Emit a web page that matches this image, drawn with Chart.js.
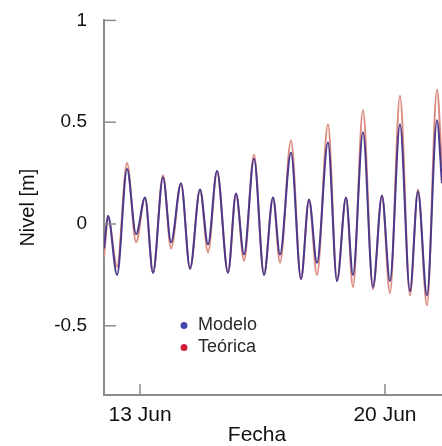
<!DOCTYPE html>
<html>
<head>
<meta charset="utf-8">
<script src="https://cdn.jsdelivr.net/npm/chart.js@4.4.0/dist/chart.umd.min.js"></script>
<style>
  html, body { margin: 0; padding: 0; background: #fff; }
  #caja { width: 442px; height: 446px; position: relative; }
</style>
</head>
<body>
<div id="caja"><canvas id="nivelChart"></canvas></div>
<script>
// tiempo en dias de junio (extremos de marea)
const dias = [11.971, 12.086, 12.343, 12.629, 12.886, 13.143, 13.371, 13.657, 13.886, 14.171,
  14.429, 14.714, 14.943, 15.2, 15.514, 15.743, 15.971, 16.257, 16.543, 16.8,
  17.0, 17.314, 17.6, 17.829, 18.057, 18.371, 18.629, 18.886, 19.086, 19.371,
  19.657, 19.914, 20.143, 20.429, 20.714, 20.943, 21.2, 21.486, 21.629];
const modelo = [-0.12, 0.04, -0.25, 0.27, -0.05, 0.13, -0.24, 0.23, -0.09, 0.20,
  -0.22, 0.17, -0.10, 0.26, -0.24, 0.15, -0.15, 0.32, -0.25, 0.13,
  -0.15, 0.35, -0.27, 0.12, -0.19, 0.40, -0.28, 0.13, -0.25, 0.45,
  -0.31, 0.14, -0.28, 0.49, -0.33, 0.16, -0.35, 0.51, 0.20];
const teorica = [-0.16, 0.03, -0.21, 0.30, -0.09, 0.13, -0.24, 0.24, -0.12, 0.20,
  -0.22, 0.17, -0.14, 0.26, -0.24, 0.15, -0.18, 0.34, -0.25, 0.13,
  -0.19, 0.41, -0.27, 0.12, -0.25, 0.49, -0.28, 0.13, -0.31, 0.56,
  -0.32, 0.14, -0.34, 0.63, -0.35, 0.17, -0.40, 0.66, 0.28];

const ticksX = [13, 20];
const etiquetasX = ['13 Jun', '20 Jun'];
const ticksY = [-0.5, 0, 0.5, 1];
const etiquetasY = ['-0.5', '0', '0.5', '1'];
const series = ['Modelo', 'Teórica'];

const fuente = "'Liberation Sans', Arial, sans-serif";

// marcas hacia adentro, leyenda y titulo del eje x
const extras = {
    id: 'extras',
    afterDraw(chart) {
        const { ctx, chartArea, scales } = chart;
        ctx.save();
        ctx.strokeStyle = '#8c8c8c';
        ctx.lineWidth = 1.5;
        ticksY.forEach(v => {
            const y = scales.y.getPixelForValue(v);
            ctx.beginPath();
            ctx.moveTo(chartArea.left, y);
            ctx.lineTo(chartArea.left + 12, y);
            ctx.stroke();
        });
        ticksX.forEach(v => {
            const x = scales.x.getPixelForValue(v);
            ctx.beginPath();
            ctx.moveTo(x, chartArea.bottom);
            ctx.lineTo(x, chartArea.bottom - 11);
            ctx.stroke();
        });

        // leyenda
        const colores = ['#3f47ad', '#d0203a'];
        ctx.font = '18px ' + fuente;
        ctx.textBaseline = 'middle';
        ctx.textAlign = 'left';
        series.forEach((nombre, i) => {
            const y = chartArea.top + 305 + i * 22;
            ctx.fillStyle = colores[i];
            ctx.beginPath();
            ctx.arc(chartArea.left + 80, y, 3.5, 0, Math.PI * 2);
            ctx.fill();
            ctx.fillStyle = '#2a2a2a';
            ctx.fillText(nombre, chartArea.left + 94, y);
        });

        ctx.font = '21px ' + fuente;
        ctx.textAlign = 'center';
        ctx.fillStyle = '#111';
        ctx.fillText('Fecha', 257, 435);
        ctx.restore();
    }
};

const ctx = document.getElementById('nivelChart').getContext('2d');
new Chart(ctx, {
    type: 'line',
    data: {
        datasets: [
            {
                label: series[0],
                data: dias.map((d, i) => ({ x: d, y: modelo[i] })),
                borderColor: '#4b3a8c',
                borderWidth: 2,
                pointRadius: 0,
                cubicInterpolationMode: 'monotone',
                fill: false
            },
            {
                label: series[1],
                data: dias.map((d, i) => ({ x: d, y: teorica[i] })),
                borderColor: '#dc8a80',
                borderWidth: 2,
                pointRadius: 0,
                cubicInterpolationMode: 'monotone',
                fill: false
            }
        ]
    },
    options: {
        responsive: true,
        maintainAspectRatio: false,
        animation: false,
        layout: { padding: { top: 18, right: 0, left: 0, bottom: 0 } },
        plugins: {
            legend: { display: false },
            tooltip: { enabled: false }
        },
        scales: {
            x: {
                type: 'linear',
                min: 11.97,
                max: 21.63,
                afterBuildTicks: s => { s.ticks = ticksX.map(v => ({ value: v })); },
                afterFit: s => { s.height = 51; },
                grid: { display: false },
                border: { color: '#8c8c8c', width: 2 },
                ticks: {
                    color: '#111',
                    font: { family: fuente, size: 21 },
                    padding: 0,
                    maxRotation: 0,
                    callback: v => etiquetasX[ticksX.indexOf(v)]
                }
            },
            y: {
                min: -0.84,
                max: 1,
                afterBuildTicks: s => { s.ticks = ticksY.map(v => ({ value: v })); },
                afterFit: s => { s.width = 104; },
                grid: { display: false },
                border: { color: '#8c8c8c', width: 2 },
                ticks: {
                    color: '#111',
                    font: { family: fuente, size: 19 },
                    padding: 9,
                    callback: v => etiquetasY[ticksY.indexOf(v)]
                },
                title: {
                    display: true,
                    text: 'Nivel [m]',
                    color: '#111',
                    font: { family: fuente, size: 20 },
                    padding: { top: 16 }
                }
            }
        }
    },
    plugins: [extras]
});
</script>
</body>
</html>
